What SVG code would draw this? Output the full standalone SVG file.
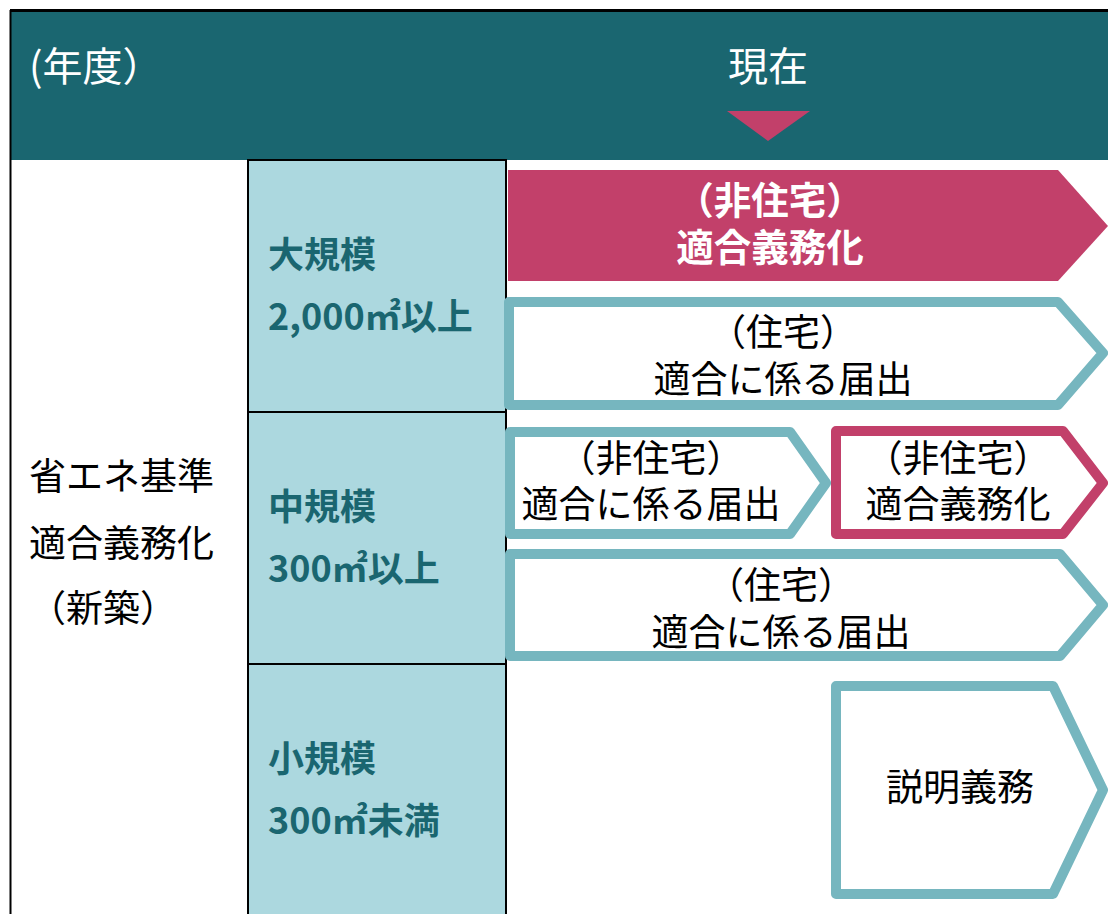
<svg xmlns="http://www.w3.org/2000/svg" width="1108" height="914" viewBox="0 0 1108 914">
<style>
text{font-family:"Noto Sans CJK JP","Noto Sans",sans-serif;}
.hd{fill:#ffffff;font-size:40px;}
.lbl{fill:#1a6670;font-size:36px;font-weight:bold;}
.bt{fill:#000000;font-size:37px;}
.wt{fill:#ffffff;font-size:37.5px;font-weight:bold;}
.olt{fill:#ffffff;stroke:#76b6bf;stroke-width:10;stroke-linejoin:round;}
.olm{fill:#ffffff;stroke:#c2406a;stroke-width:10;stroke-linejoin:round;}
.cell{fill:#acd8df;stroke:#000000;stroke-width:2;}
</style>
<rect x="0" y="0" width="1108" height="914" fill="#ffffff"/>
<g id="header">
<rect x="10" y="10" width="1100" height="150" fill="#1a6670"/>
<line x1="10" y1="10.5" x2="1108" y2="10.5" stroke="#000" stroke-width="3"/>
<text class="hd" x="29" y="81">(年度）</text>
<text class="hd" x="768" y="81" text-anchor="middle">現在</text>
<polygon points="727,111 810,111 768,141" fill="#c2406a"/>
</g>
<g id="left-col">
<line x1="10.5" y1="10" x2="10.5" y2="914" stroke="#000" stroke-width="2"/>
<text class="bt" x="29" y="490">省エネ基準</text>
<text class="bt" x="29" y="557">適合義務化</text>
<text class="bt" x="29" y="622">（新築）</text>
</g>
<g id="row-large">
<rect class="cell" x="248" y="160" width="258" height="252"/>
<text class="lbl" x="268" y="268">大規模</text>
<text class="lbl" x="268" y="330">2,000㎡以上</text>
</g>
<g id="row-medium">
<rect class="cell" x="248" y="412" width="258" height="252"/>
<text class="lbl" x="268" y="520">中規模</text>
<text class="lbl" x="268" y="582">300㎡以上</text>
</g>
<g id="row-small">
<rect class="cell" x="248" y="664" width="258" height="252"/>
<text class="lbl" x="268" y="772">小規模</text>
<text class="lbl" x="268" y="834">300㎡未満</text>
</g>
<g id="large-nonres">
<polygon points="508,170 1058,170 1108,226 1058,281 508,281" fill="#c2406a"/>
<text class="wt" x="770" y="214" text-anchor="middle">（非住宅）</text>
<text class="wt" x="770" y="261" text-anchor="middle">適合義務化</text>
</g>
<g id="large-res">
<polygon class="olt" points="509,302 1058,302 1103,353 1058,405 509,405"/>
<text class="bt" x="783" y="346" text-anchor="middle">（住宅）</text>
<text class="bt" x="783" y="393" text-anchor="middle">適合に係る届出</text>
</g>
<g id="medium-nonres-notify">
<polygon class="olt" points="510,432 790,432 826,483 790,534 510,534"/>
<text class="bt" x="651" y="472" text-anchor="middle">（非住宅）</text>
<text class="bt" x="651" y="518" text-anchor="middle">適合に係る届出</text>
</g>
<g id="medium-nonres-mandatory">
<polygon class="olm" points="836,431 1063,431 1103,483 1063,534 836,534"/>
<text class="bt" x="958" y="472" text-anchor="middle">（非住宅）</text>
<text class="bt" x="958" y="518" text-anchor="middle">適合義務化</text>
</g>
<g id="medium-res">
<polygon class="olt" points="510,554 1060,554 1103,605 1060,656 510,656"/>
<text class="bt" x="781" y="599" text-anchor="middle">（住宅）</text>
<text class="bt" x="781" y="646" text-anchor="middle">適合に係る届出</text>
</g>
<g id="small-explain">
<polygon class="olt" points="836,686 1053,686 1103,790 1053,894 836,894"/>
<text class="bt" x="960" y="801" text-anchor="middle">説明義務</text>
</g>
<g id="connectors"></g>
</svg>
